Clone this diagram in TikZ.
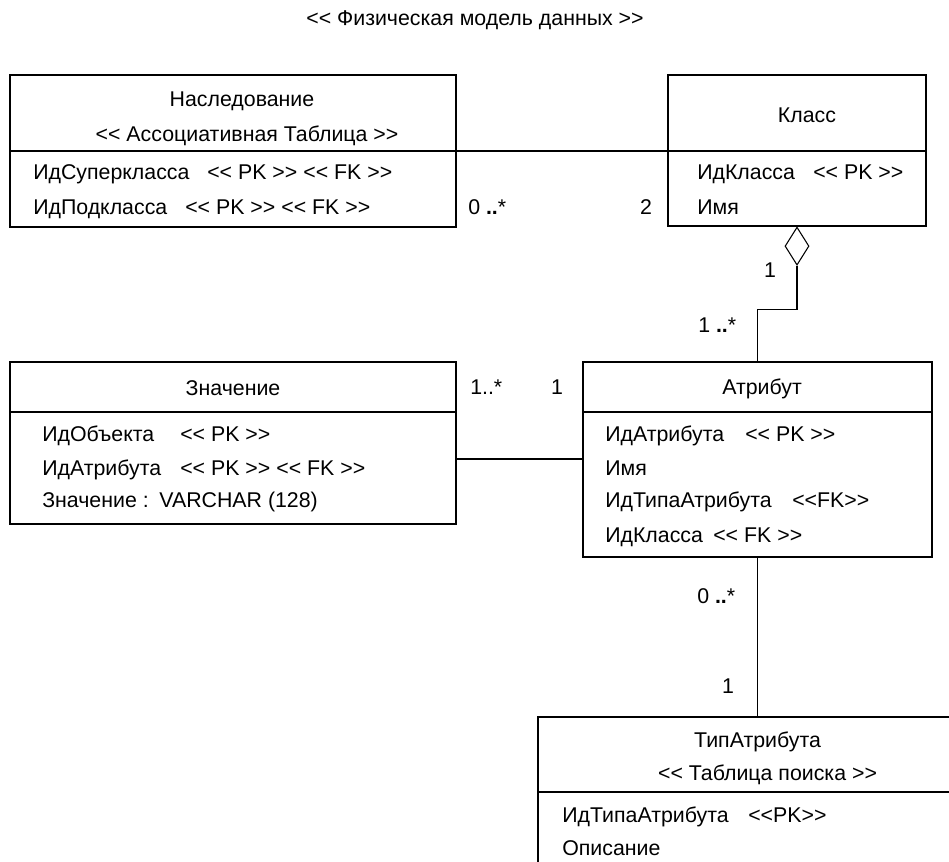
\documentclass[tikz,border=0pt]{standalone}
\usepackage{fontspec}
\setmainfont{Liberation Sans}
\usetikzlibrary{shapes.geometric}
% guillemet-free stereotype brackets (TeX mapping would merge << and >>)
\newcommand\stl{<{}<}
\newcommand\stg{>{}>}
\begin{document}
\begin{tikzpicture}[x=0.75pt,y=-0.75pt,
  every node/.style={font=\fontsize{16}{18}\selectfont},
  box/.style={draw, line width=0.9pt, inner sep=0pt},
  txt/.style={anchor=base west, inner sep=0pt},
  ctxt/.style={anchor=base, inner sep=0pt},
  sepline/.style={line width=1.3pt},
  link/.style={line width=0.8pt},
  aggmark/.style={diamond, draw, line width=0.8pt, fill=white, inner sep=0pt,
    minimum width=18pt, minimum height=28.5pt, anchor=north}]
\useasboundingbox (0,0) rectangle (949,862);
\clip (0,0) rectangle (949,862);

% title
\node[ctxt] (title) at (475,26) {\stl{} Физическая модель данных \stg};

% tables
\node[box, minimum width=334.5pt, minimum height=114pt] (inh) at (233,151) {};
\node[box, minimum width=193.5pt, minimum height=113.25pt] (cls) at (797,150.5) {};
\node[box, minimum width=334.5pt, minimum height=121.5pt] (val) at (233,443) {};
\node[box, minimum width=261.75pt, minimum height=146.25pt] (atr) at (757.5,459.5) {};
\node[box, minimum width=339pt, minimum height=152.25pt] (typ) at (764,818.5) {};

% header / field separators
\draw[sepline] (inh.west |- 0,151) -- (inh.east |- 0,151);
\draw[sepline] (cls.west |- 0,151) -- (cls.east |- 0,151);
\draw[sepline] (val.west |- 0,412) -- (val.east |- 0,412);
\draw[sepline] (atr.west |- 0,412) -- (atr.east |- 0,412);
\draw[sepline] (typ.west |- 0,792) -- (typ.east |- 0,792);

% associations
\draw[link] (inh.east |- 0,151) -- (cls.west |- 0,151);
\node[aggmark] (agg) at (cls.south) {};
\draw[link] (agg.south) -- ++(0,44) -| (atr.north);
\draw[link] (val.east |- 0,459) -- (atr.west |- 0,459);
\draw[link] (atr.south) -- (atr.south |- typ.north);

% Наследование
\node[ctxt] (inhname) at (242,107) {Наследование};
\node[ctxt] (inhst) at (247,142) {\stl{} Ассоциативная Таблица \stg};
\node[txt] (inhf1) at (33,180) {ИдСуперкласса};
\node[txt] (inhk1) at (207,180) {\stl{} PK \stg{} \stl{} FK \stg};
\node[txt] (inhf2) at (33,215) {ИдПодкласса};
\node[txt] (inhk2) at (185,215) {\stl{} PK \stg{} \stl{} FK \stg};

% Класс
\node[ctxt] (clsname) at (807,123) {Класс};
\node[txt] (clsf1) at (697,180) {ИдКласса};
\node[txt] (clsk1) at (813,180) {\stl{} PK \stg};
\node[txt] (clsf2) at (697,215) {Имя};

% Значение
\node[ctxt] (valname) at (233,396) {Значение};
\node[txt] (valf1) at (42,442) {ИдОбъекта};
\node[txt] (valk1) at (180,442) {\stl{} PK \stg};
\node[txt] (valf2) at (42,475) {ИдАтрибута};
\node[txt] (valk2) at (180,475) {\stl{} PK \stg{} \stl{} FK \stg};
\node[txt] (valf3) at (42,508) {Значение :\enspace VARCHAR (128)};

% Атрибут
\node[ctxt] (atrname) at (762,395) {Атрибут};
\node[txt] (atrf1) at (605,442) {ИдАтрибута};
\node[txt] (atrk1) at (745,442) {\stl{} PK \stg};
\node[txt] (atrf2) at (605,475) {Имя};
\node[txt] (atrf3) at (605,508) {ИдТипаАтрибута};
\node[txt] (atrk3) at (792,508) {\stl{}FK\stg};
\node[txt] (atrf4) at (605,542) {ИдКласса};
\node[txt] (atrk4) at (713,542) {\stl{} FK \stg};

% ТипАтрибута
\node[ctxt] (typname) at (757.5,747) {ТипАтрибута};
\node[ctxt] (typst) at (767.5,780) {\stl{} Таблица поиска \stg};
\node[txt] (typf1) at (562,822) {ИдТипаАтрибута};
\node[txt] (typk1) at (748,822) {\stl{}PK\stg};
\node[txt] (typf2) at (562,855) {Описание};

% multiplicities
\node[txt] (m1) at (468,215) {0 \textbf{..}*};
\node[ctxt] (m2) at (646,215) {2};
\node[ctxt] (m3) at (770,278) {1};
\node[txt] (m4) at (698,333) {1 \textbf{..}*};
\node[txt] (m5) at (470,395) {1..*};
\node[ctxt] (m6) at (557,395) {1};
\node[txt] (m7) at (697,603) {0 \textbf{..}*};
\node[ctxt] (m8) at (728,693) {1};
\end{tikzpicture}
\end{document}
